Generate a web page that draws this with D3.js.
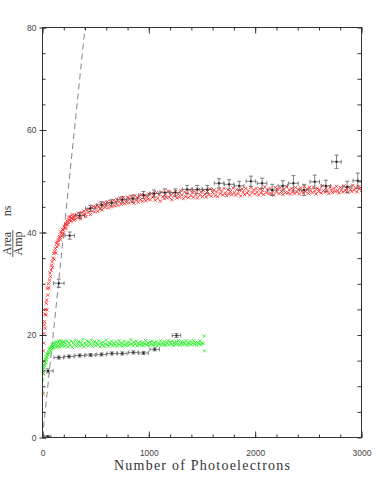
<!DOCTYPE html>
<html>
<head>
<meta charset="utf-8">
<script src="https://cdn.jsdelivr.net/npm/d3@7"></script>
<style>
  body { margin: 0; background: #fff; }
  svg { display: block; }
</style>
</head>
<body>
<div id="chart"></div>
<script>
// axis settings
const xDomain = [0, 3000];
const yDomain = [0, 80];
const xLabels = [0, 1000, 2000, 3000];
const yLabels = [0, 20, 40, 60, 80];

// dashed reference line (endpoints)
const refLine = [[0, 0], [400, 80]];

// red points [photoelectrons, area/amp]
const redPoints = [
  [3,8.5],[5,14.8],[8,16.9],[10,12.5],[12,18.4],[15,20.3],[18,22.0],[20,22.6],[22,24.1],[25,21.3],
  [28,25.0],[32,23.9],[35,26.2],[40,26.8],[42,24.9],[45,29.1],[50,27.8],[55,30.0],[60,29.2],[66,30.7],
  [70,32.1],[75,31.4],[80,32.7],[85,33.6],[90,34.3],[95,33.2],[100,35.0],[105,35.9],[110,34.8],[115,36.3],
  [120,36.9],[125,36.0],[130,37.9],[135,37.2],[140,38.1],[146,38.5],[150,37.6],[155,39.0],[162,39.2],[168,38.6],
  [172,40.1],[177,39.8],[182,39.3],[188,40.6],[193,40.5],[198,39.9],[204,41.2],[209,40.9],[215,41.7],[220,40.8],
  [225,41.5],[230,42.3],[236,41.6],[240,42.0],[246,43.0],[250,42.4],[256,42.4],[262,43.1],[268,42.2],[272,42.8],
  [278,43.5],[284,42.6],[290,43.0],[296,42.4],
  [300,43.3],[310,42.6],[320,43.5],[330,42.9],[340,43.8],[350,43.1],[360,42.7],[370,43.9],[380,43.4],[390,44.2],
  [400,43.6],[410,43.1],[420,44.4],[430,43.9],[440,44.6],[450,43.5],[460,44.9],[470,44.2],[480,45.1],[490,44.0],
  [500,44.8],[510,45.3],[520,44.1],[530,45.0],[540,44.6],[550,45.6],[560,44.4],[570,45.2],[580,45.8],[590,44.9],
  [600,45.4],[610,46.0],[620,44.8],[630,45.5],[640,46.1],[650,45.0],[660,45.7],[670,46.3],[680,45.2],[690,45.9],
  [700,46.5],[710,45.3],[720,46.0],[730,46.7],[740,45.5],[750,46.2],[760,46.8],[770,45.6],[780,46.4],[790,45.9],
  [800,46.9],[810,45.8],[820,46.5],[830,47.1],[840,46.0],[850,46.6],[860,45.7],[870,47.2],[880,46.3],[890,46.8],
  [900,45.9],[910,47.0],[920,46.4],[930,47.4],[940,46.1],[950,46.8],[960,47.3],[970,46.2],[980,47.0],[990,46.5],
  [1000,47.5],[1012,46.4],[1024,47.6],[1036,46.9],[1048,47.2],[1060,46.3],[1072,47.8],[1084,46.7],[1096,47.4],[1108,46.1],
  [1120,47.9],[1132,47.0],[1144,46.6],[1156,47.5],[1168,46.8],[1180,48.1],[1192,46.9],[1204,47.3],[1216,46.4],[1228,47.7],
  [1240,47.1],[1252,48.0],[1264,46.7],[1276,47.5],[1288,46.9],[1300,48.2],[1312,47.3],[1324,46.6],[1336,47.9],[1348,47.0],
  [1360,47.6],[1372,46.8],[1384,48.3],[1396,47.2],[1408,47.8],[1420,46.9],[1432,48.0],[1444,47.4],[1456,46.7],[1468,48.4],
  [1480,47.3],[1492,47.9],[1504,47.0],[1516,48.2],[1528,47.5],[1540,46.9],[1552,48.0],[1564,47.4],[1576,48.5],[1588,47.1],
  [1600,47.8],[1612,48.3],[1624,47.2],[1636,47.9],[1648,47.0],[1660,48.4],[1672,47.6],[1684,48.1],[1696,47.3],[1708,48.6],
  [1720,47.7],[1732,47.2],[1744,48.3],[1756,47.5],[1768,48.0],[1780,47.4],[1792,48.7],[1804,47.8],[1816,47.3],[1828,48.4],
  [1840,47.6],[1852,48.2],[1864,47.1],[1876,48.5],[1888,47.9],[1900,47.4],[1912,48.6],[1924,47.7],[1936,48.1],[1948,47.3],
  [1960,48.8],[1972,47.8],[1984,48.3],[1996,47.5],[2008,48.6],[2020,47.9],[2032,47.3],[2044,48.5],[2056,47.7],[2068,48.2],
  [2080,47.4],[2092,48.9],[2104,47.8],[2116,48.3],[2128,47.6],[2140,48.6],[2152,47.5],[2164,48.1],[2176,47.3],[2188,48.8],
  [2200,47.9],[2212,48.4],[2224,47.6],[2236,48.7],[2248,48.0],[2260,47.4],[2272,48.5],[2284,47.8],[2296,48.9],[2308,47.7],
  [2320,48.3],[2332,47.5],[2344,48.6],[2356,48.0],[2368,47.6],[2380,48.8],[2392,47.9],[2404,48.4],[2416,47.5],[2428,48.7],
  [2440,48.1],[2452,47.7],[2464,49.0],[2476,48.0],[2488,48.5],[2500,47.6],[2512,48.8],[2524,48.2],[2536,47.8],[2548,48.9],
  [2560,48.1],[2572,47.5],[2584,48.6],[2596,48.0],[2608,48.4],[2620,47.7],[2632,49.1],[2644,48.2],[2656,47.9],[2668,48.7],
  [2680,48.1],[2692,47.6],[2704,48.9],[2716,48.3],[2728,47.8],[2740,48.6],[2752,48.0],[2764,49.0],[2776,48.2],[2788,47.7],
  [2800,48.8],[2812,48.3],[2824,47.9],[2836,49.1],[2848,48.2],[2860,48.6],[2872,47.8],[2884,48.9],[2896,48.4],[2908,48.0],
  [2920,49.2],[2932,48.3],[2944,48.7],[2956,47.9],[2968,49.0],[2980,48.5],[2992,48.8],[3000,48.2]
];

// green points [photoelectrons, area/amp]
const greenPoints = [
  [2,8.9],[3,11.3],[4,13.3],[6,12.4],[8,13.8],[10,12.9],[13,14.2],[16,13.6],[19,14.9],[22,14.1],
  [26,15.3],[30,14.6],[34,15.8],[38,15.2],[42,16.3],[46,15.7],[50,16.6],[55,16.1],[60,17.2],[65,16.5],
  [70,17.4],[75,16.9],[80,17.8],[85,17.2],[90,18.1],[95,17.4],[100,17.9],[106,18.5],[112,17.5],[118,18.3],
  [124,17.8],[130,18.7],[136,17.6],[142,18.4],[148,17.9],[154,18.8],[160,17.7],[166,18.2],[172,18.9],[178,17.8],
  [184,18.5],[190,18.0],[196,18.7],
  [200,18.6],[210,17.8],[220,18.3],[230,18.9],[240,17.7],[250,18.4],[260,18.0],[270,18.8],[280,17.6],[290,18.5],
  [300,18.1],[310,19.0],[320,17.8],[330,18.3],[340,18.7],[350,17.9],[360,18.5],[370,18.0],[380,19.1],[390,17.7],
  [400,18.4],[410,18.1],[420,18.8],[430,17.9],[440,18.6],[450,18.2],[460,19.0],[470,17.8],[480,18.3],[490,18.7],
  [500,17.9],[510,18.5],[520,18.1],[530,18.9],[540,17.7],[550,18.4],[560,18.0],[570,18.6],[580,17.8],[590,18.3],
  [600,19.0],[610,18.1],[620,17.8],[630,18.5],[640,18.2],[650,18.8],[660,17.9],[670,18.4],[680,18.0],[690,18.7],
  [700,17.8],[710,18.3],[720,18.9],[730,18.0],[740,18.5],[750,17.8],[760,18.2],[770,18.8],[780,18.0],[790,18.4],
  [800,17.9],[810,18.6],[820,18.1],[830,19.1],[840,18.3],[850,17.9],[860,18.6],[870,18.2],[880,18.8],[890,17.9],
  [900,18.4],[910,18.1],[920,18.7],[930,18.0],[940,18.5],[950,17.9],[960,18.3],[970,18.9],[980,18.1],[990,18.4],
  [1000,17.9],[1010,18.6],[1020,18.2],[1030,18.8],[1040,18.0],[1050,18.5],[1060,18.1],[1070,18.7],[1080,17.9],[1090,18.4],
  [1100,18.2],[1110,18.9],[1120,18.0],[1130,18.5],[1140,18.1],[1150,18.7],[1160,18.0],[1170,18.4],[1180,18.9],[1190,18.1],
  [1200,18.6],[1210,18.2],[1220,18.8],[1230,18.0],[1240,18.5],[1250,18.1],[1260,18.7],[1270,18.2],[1280,18.9],[1290,18.0],
  [1300,18.4],[1310,18.7],[1320,18.1],[1330,18.6],[1340,18.2],[1350,18.9],[1360,18.0],[1370,18.5],[1380,18.2],[1390,18.8],
  [1400,18.1],[1410,18.4],[1420,18.9],[1430,18.2],[1440,18.6],[1450,18.0],[1460,18.5],[1470,18.3],[1480,18.8],[1490,18.1],
  [1500,18.5],[1510,18.3],[1520,19.8],[1522,16.9]
];

// black measurements with errors [x, y, xErr, yErr]
const upperMeas = [
  [153,30.1,50,0.8],[256,39.4,45,0.7],[350,43.3,45,0.6],[450,44.7,45,0.6],[555,45.4,45,0.6],
  [650,45.8,45,0.6],[750,46.4,45,0.6],[850,46.6,45,0.7],[950,47.3,45,0.7],[1050,47.6,45,0.7],
  [1150,47.8,45,0.7],[1250,47.8,45,0.7],[1360,48.4,45,0.8],[1455,48.4,45,0.8],[1550,48.4,45,0.8],
  [1660,49.6,45,0.9],[1755,49.4,45,0.9],[1850,49.1,45,0.9],[1960,50.0,45,1.0],[2065,49.6,45,1.0],
  [2160,48.3,45,1.1],[2260,49.1,45,1.0],[2360,49.6,45,1.5],[2460,48.3,45,1.1],[2560,49.9,45,1.3],
  [2665,49.1,45,1.1],[2765,53.8,45,1.3],[2865,48.9,45,1.1],[2965,50.1,45,1.5]
];
const lowerMeas = [
  [50,0.2,30,0.2],[52,13.0,48,0.4],[153,15.6,45,0.3],[250,15.8,45,0.3],[350,16.0,45,0.3],
  [452,16.1,45,0.3],[555,16.2,45,0.3],[653,16.4,45,0.3],[750,16.4,45,0.3],[855,16.6,45,0.3],
  [950,16.5,45,0.3],[1055,17.2,45,0.3],[1260,19.9,40,0.4]
];

const width = 382, height = 491;
const plotLeft = 42.5, plotRight = 361.5, plotTop = 27.5, plotBottom = 437.5;
const axisColor = "#333";

const svg = d3.select("#chart").append("svg")
  .attr("width", width)
  .attr("height", height);

const x = d3.scaleLinear().domain(xDomain).range([plotLeft, plotRight]);
const y = d3.scaleLinear().domain(yDomain).range([plotBottom, plotTop]);

// clip to plot area
svg.append("clipPath").attr("id", "plot")
  .append("rect")
  .attr("x", plotLeft).attr("y", plotTop)
  .attr("width", plotRight - plotLeft).attr("height", plotBottom - plotTop);

const plot = svg.append("g").attr("clip-path", "url(#plot)");

// dashed line
plot.append("path")
  .datum(refLine)
  .attr("d", d3.line().x(d => x(d[0])).y(d => y(d[1])))
  .attr("fill", "none")
  .attr("stroke", "#777")
  .attr("stroke-width", 0.9)
  .attr("stroke-dasharray", "6,4");

// x markers
function crosses(data, color, cls) {
  const s = 1.6;
  plot.selectAll("." + cls)
    .data(data)
    .enter()
    .append("path")
    .attr("class", cls)
    .attr("d", d => {
      const px = x(d[0]), py = y(d[1]);
      return `M${px - s},${py - s}L${px + s},${py + s}M${px - s},${py + s}L${px + s},${py - s}`;
    })
    .attr("stroke", color)
    .attr("stroke-width", 0.8)
    .attr("fill", "none");
}

crosses(redPoints, "#ff2020", "red");
crosses(greenPoints, "#20ee20", "green");

// error bar points
function errorBars(data, cls) {
  const g = plot.selectAll("." + cls)
    .data(data)
    .enter()
    .append("g")
    .attr("class", cls);
  const cap = 2;
  g.append("path")
    .attr("d", d => {
      const px = x(d[0]), py = y(d[1]);
      const x0 = x(d[0] - d[2]), x1 = x(d[0] + d[2]);
      const y0 = y(d[1] - d[3]), y1 = y(d[1] + d[3]);
      return `M${x0},${py}H${x1}M${x0},${py - cap}V${py + cap}M${x1},${py - cap}V${py + cap}` +
        `M${px},${y0}V${y1}M${px - cap},${y0}H${px + cap}M${px - cap},${y1}H${px + cap}`;
    })
    .attr("stroke", "#555")
    .attr("stroke-width", 0.75)
    .attr("fill", "none");
  g.append("rect")
    .attr("x", d => x(d[0]) - 1)
    .attr("y", d => y(d[1]) - 1)
    .attr("width", 2)
    .attr("height", 2)
    .attr("fill", "#222");
}

errorBars(upperMeas, "upper");
errorBars(lowerMeas, "lower");

// frame
svg.append("rect")
  .attr("x", plotLeft).attr("y", plotTop)
  .attr("width", plotRight - plotLeft).attr("height", plotBottom - plotTop)
  .attr("fill", "none")
  .attr("stroke", axisColor)
  .attr("stroke-width", 1);

const xMinor = d3.range(0, 3001, 200);
const yMinor = d3.range(0, 81, 5);
const fmt = d3.format("d");

function styleAxis(g) {
  g.select(".domain").remove();
  g.selectAll("line").attr("stroke", axisColor);
  g.selectAll("text")
    .attr("fill", "#444")
    .attr("font-family", "Liberation Sans, Arial, sans-serif")
    .attr("font-size", 8.5);
}

// bottom: minor inward, major longer
svg.append("g").attr("transform", `translate(0,${plotBottom})`)
  .call(d3.axisBottom(x).tickValues(xMinor).tickSize(-3).tickFormat(""))
  .call(styleAxis);
svg.append("g").attr("transform", `translate(0,${plotBottom})`)
  .call(d3.axisBottom(x).tickValues(xLabels).tickFormat(fmt).tickSizeInner(-6).tickSizeOuter(0).tickPadding(12))
  .call(styleAxis);

// top
svg.append("g").attr("transform", `translate(0,${plotTop})`)
  .call(d3.axisTop(x).tickValues(xMinor).tickSize(-3).tickFormat(""))
  .call(styleAxis);
svg.append("g").attr("transform", `translate(0,${plotTop})`)
  .call(d3.axisTop(x).tickValues(xLabels).tickSize(-6).tickFormat(""))
  .call(styleAxis);

// left
svg.append("g").attr("transform", `translate(${plotLeft},0)`)
  .call(d3.axisLeft(y).tickValues(yMinor).tickSize(-3).tickFormat(""))
  .call(styleAxis);
svg.append("g").attr("transform", `translate(${plotLeft},0)`)
  .call(d3.axisLeft(y).tickValues(yLabels).tickFormat(fmt).tickSizeInner(3).tickSizeOuter(0).tickPadding(3))
  .call(styleAxis);
svg.append("g").attr("transform", `translate(${plotLeft},0)`)
  .call(d3.axisLeft(y).tickValues(yLabels).tickSize(-4).tickFormat(""))
  .call(styleAxis);

// right
svg.append("g").attr("transform", `translate(${plotRight},0)`)
  .call(d3.axisRight(y).tickValues(yMinor).tickSize(-4).tickFormat(""))
  .call(styleAxis);

// x title
svg.append("text")
  .attr("x", (plotLeft + plotRight) / 2)
  .attr("y", 470)
  .attr("text-anchor", "middle")
  .attr("font-family", "Liberation Serif, serif")
  .attr("font-size", 14)
  .attr("textLength", 176)
  .attr("lengthAdjust", "spacing")
  .attr("fill", "#333")
  .text("Number of Photoelectrons");

// y title: Area/Amp ns
const yt = svg.append("g").attr("transform", "rotate(-90)")
  .attr("font-family", "Liberation Serif, serif")
  .attr("font-size", 12)
  .attr("fill", "#333");
yt.append("text").attr("x", -243.5).attr("y", 10.5).attr("text-anchor", "middle").text("Area");
yt.append("text").attr("x", -243.5).attr("y", 21.5).attr("text-anchor", "middle").text("Amp");
yt.append("line")
  .attr("x1", -257).attr("x2", -230)
  .attr("y1", 12.8).attr("y2", 12.8)
  .attr("stroke", "#333").attr("stroke-width", 0.8);
yt.append("text").attr("x", -211).attr("y", 10.5).attr("text-anchor", "middle").text("ns");
</script>
</body>
</html>
